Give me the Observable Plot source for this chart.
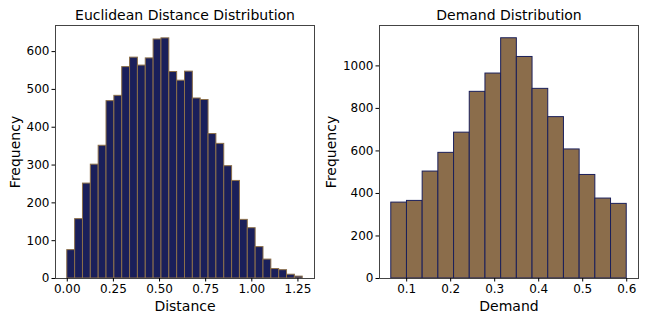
<!DOCTYPE html>
<html>
<head>
<meta charset="utf-8">
<script src="https://cdn.jsdelivr.net/npm/d3@7"></script>
<script src="https://cdn.jsdelivr.net/npm/@observablehq/plot@0.6"></script>
<style>
  body { margin: 0; background: #fff; }
  #wrap { display: flex; width: 648px; height: 324px; }
  #wrap svg g[aria-label$="tick label"] { font-size: 12px !important; font-family: "DejaVu Sans", sans-serif !important; }
</style>
</head>
<body>
<div id="wrap"></div>
<script>
// ---- Data ----
const distCounts = [75, 157, 251, 301, 351, 469, 483, 559, 584, 563, 582, 632, 635, 546, 523,
                    547, 476, 472, 382, 356, 297, 258, 155, 133, 83, 50, 25, 22, 10, 5];
const distMin = 0.0, distMax = 1.276;
const distTicks = [0, 0.25, 0.5, 0.75, 1.0, 1.25];
const distFreqTicks = [0, 100, 200, 300, 400, 500, 600];

const demandCounts = [357, 365, 503, 591, 686, 878, 964, 1130, 1042, 892, 759, 607, 487, 376, 351];
const demandMin = 0.065, demandMax = 0.6;
const demandTicks = [0.1, 0.2, 0.3, 0.4, 0.5, 0.6];
const demandFreqTicks = [0, 200, 400, 600, 800, 1000];

function bins(counts, lo, hi) {
  const w = (hi - lo) / counts.length;
  return counts.map((c, i) => ({x1: lo + i * w, x2: lo + (i + 1) * w, y: c}));
}

function panel({counts, lo, hi, xTicks, xFmt, yTicks, yMax, fill, edge, title, xLabel, yLabelDx}) {
  const data = bins(counts, lo, hi);
  const r = hi - lo;
  return Plot.plot({
    width: 324, height: 324,
    marginLeft: 55, marginRight: 10, marginTop: 25, marginBottom: 46,
    style: {fontFamily: "DejaVu Sans, sans-serif", fontSize: "12px", color: "#000", background: "#fff"},
    x: {domain: [lo - 0.05 * r, hi + 0.05 * r]},
    y: {domain: [0, yMax]},
    marks: [
      Plot.rectY(data, {x1: "x1", x2: "x2", y: "y", fill, stroke: edge, strokeWidth: 1, inset: 0}),
      Plot.frame({stroke: "#444", strokeWidth: 1}),
      Plot.axisX({ticks: xTicks, tickFormat: d3.format(xFmt), tickSize: 3.5, tickPadding: 2.5, label: null, stroke: "#000", fontSize: 12}),
      Plot.axisY({ticks: yTicks, tickFormat: d3.format("d"), tickSize: 3.5, tickPadding: 2.5, label: null, stroke: "#000", fontSize: 12}),
      Plot.text([title], {text: d => d, frameAnchor: "top", dy: -10, lineAnchor: "middle", textAnchor: "middle", fontSize: 14, fill: "#000"}),
      Plot.text([xLabel], {text: d => d, frameAnchor: "bottom", dy: 28, lineAnchor: "middle", textAnchor: "middle", fontSize: 14, fill: "#000"}),
      Plot.text(["Frequency"], {text: d => d, frameAnchor: "left", dx: yLabelDx, rotate: -90, lineAnchor: "middle", textAnchor: "middle", fontSize: 14, fill: "#000"})
    ]
  });
}

const wrap = document.getElementById("wrap");
wrap.append(panel({
  counts: distCounts, lo: distMin, hi: distMax, xTicks: distTicks, xFmt: ".2f",
  yTicks: distFreqTicks, yMax: 669, fill: "#1a1f5a", edge: "#8b6f4a",
  title: "Euclidean Distance Distribution", xLabel: "Distance", yLabelDx: -40
}));
wrap.append(panel({
  counts: demandCounts, lo: demandMin, hi: demandMax, xTicks: demandTicks, xFmt: ".1f",
  yTicks: demandFreqTicks, yMax: 1190, fill: "#8b6d4b", edge: "#1a1f5a",
  title: "Demand Distribution", xLabel: "Demand", yLabelDx: -48
}));
</script>
</body>
</html>
